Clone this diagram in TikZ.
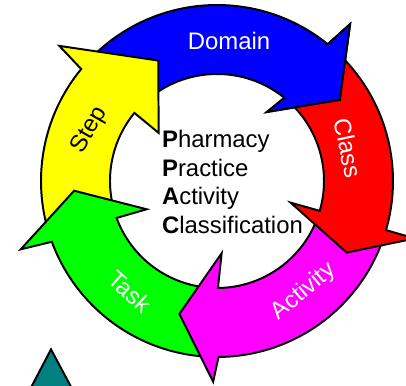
\documentclass[tikz,border=0pt]{standalone}
\usepackage{fontspec}
\setmainfont{Liberation Sans}
\usepackage{tikz}
\usetikzlibrary{positioning}

\definecolor{cycblue}{RGB}{0,0,255}
\definecolor{cycred}{RGB}{255,0,0}
\definecolor{cycmagenta}{RGB}{255,0,255}
\definecolor{cycgreen}{RGB}{0,255,0}
\definecolor{cycyellow}{RGB}{255,255,0}
\definecolor{cycteal}{RGB}{0,128,128}

\def\rout{4.4cm}
\def\rin{2.675cm}
% #1 colour, #2 tail, #3 back, #4/#5 tip, #6/#7 outer barb, #8/#9 inner barb
\newcommand{\ringarrow}[9]{%
  \filldraw[ringpart, fill=#1] (#2:\rout) arc[start angle=#2, end angle=#3, radius=\rout]
    -- (#6:#7) -- (#4:#5) -- (#8:#9) -- (#3:\rin)
    arc[start angle=#3, end angle=#2, radius=\rin] -- cycle;}

\begin{document}
\begin{tikzpicture}[line join=miter,
  ringpart/.style={draw=black, line width=1.4pt},
  ringlabel/.style={font=\fontsize{17}{20}\selectfont, text=white, inner sep=0pt}]

\useasboundingbox (-5.425,-5.125) rectangle (4.725,4.525);

\ringarrow{cycblue}{136}{51}{33.4}{3.68}{49.7}{5.145}{54.1}{2.13}
\ringarrow{cycyellow}{196}{140.5}{116}{3.35}{139.4}{5.19}{140.5}{1.89}
\ringarrow{cycgreen}{-93}{-159.8}{-176.1}{3.58}{-160.8}{5.195}{-158.1}{1.895}
\ringarrow{cycmagenta}{-19}{-89.5}{-105.8}{3.455}{-91.1}{5.02}{-86.3}{1.81}
\ringarrow{cycred}{47}{-16.2}{-28.9}{3.705}{-16.2}{5.15}{-16.4}{1.92}

% blue head back on top of the red tail
\fill[cycblue] (51:\rout) -- (49.7:5.145) -- (33.4:3.68) -- (54.1:2.13) -- (51:\rin) -- cycle;
\draw[ringpart] (51:\rout) -- (49.7:5.145) -- (33.4:3.68) -- (54.1:2.13) -- (51:\rin);

\filldraw[ringpart, fill=cycteal] (-4.15,-4.21) -- (-3.205,-5.975) -- (-5.075,-5.975) -- cycle;

\node[ringlabel] (domain) at (0.3,3.51) {Domain};
\node[ringlabel, rotate=-78] (class) at (3.275,0.825) {Class};
\node[ringlabel, rotate=40] (activity) at (2.175,-2.767) {Activity};
\node[ringlabel, rotate=-42] (task) at (-2.175,-2.767) {Task};
\node[ringlabel, text=black, rotate=60] (step) at (-3.19,1.275) {Step};

\node[anchor=north west, align=left, inner sep=0pt, font=\fontsize{17}{20.4}\selectfont]
  (ppac) at (-1.38,1.275) {\textbf{P}harmacy\\\textbf{P}ractice\\\textbf{A}ctivity\\\textbf{C}lassification};

\end{tikzpicture}
\end{document}
